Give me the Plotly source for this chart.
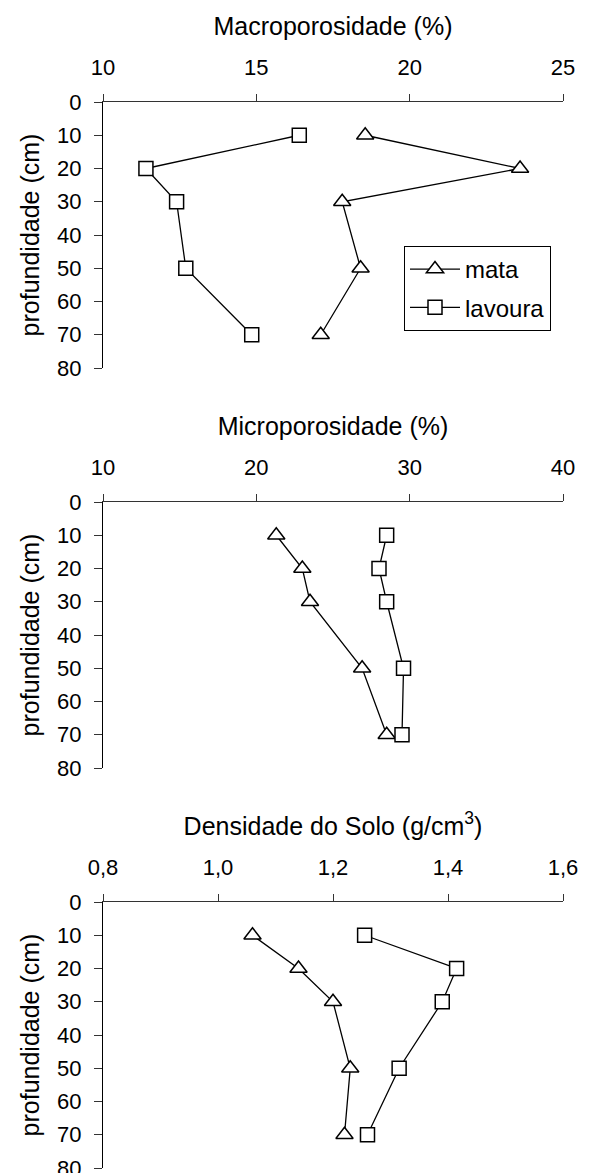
import plotly.graph_objects as go

depth = [10, 20, 30, 50, 70]

macro_mata = [18.55, 23.6, 17.8, 18.4, 17.1]
macro_lavoura = [16.4, 11.4, 12.4, 12.7, 14.85]
micro_mata = [21.3, 23.0, 23.5, 26.9, 28.5]
micro_lavoura = [28.5, 28.0, 28.5, 29.6, 29.5]
dens_mata = [1.06, 1.14, 1.20, 1.23, 1.22]
dens_lavoura = [1.255, 1.415, 1.39, 1.315, 1.26]

series_names = ["mata", "lavoura"]
panel_titles = ["Macroporosidade (%)", "Microporosidade (%)", "Densidade do Solo (g/cm<sup>3</sup>)"]
x_ranges = [[10, 25], [10, 40], [0.8, 1.6]]
x_dticks = [5, 10, 0.2]
x_formats = ["d", "d", ".1f"]
y_title = "profundidade (cm)"

W, H = 589, 1173
FONT = "Liberation Sans, Arial, sans-serif"

fig = go.Figure()

data = [(macro_mata, macro_lavoura), (micro_mata, micro_lavoura), (dens_mata, dens_lavoura)]
symbols = ["triangle-up", "square"]
sizes = [15, 14]

x0, x1 = 103, 563
for k, (m, l) in enumerate(data):
    ax = "" if k == 0 else str(k + 1)
    for j, vals in enumerate((m, l)):
        fig.add_trace(go.Scatter(
            x=vals, y=depth, mode="lines+markers", name=series_names[j],
            legendgroup=series_names[j],
            xaxis="x" + ax, yaxis="y" + ax, showlegend=(k == 0),
            line=dict(color="black", width=1.3),
            marker=dict(symbol=symbols[j], size=sizes[j], color="white",
                        line=dict(color="black", width=1.5)),
        ))
    top = 102 + 400 * k
    bot = 368 + 400 * k
    xa = dict(domain=[x0 / W, x1 / W], range=x_ranges[k], dtick=x_dticks[k], tick0=x_ranges[k][0],
              side="top", anchor="y" + ax, showline=True, linecolor="#333", linewidth=1,
              ticks="outside", ticklen=7, tickcolor="#333", showgrid=False, zeroline=False,
              tickformat=x_formats[k], tickfont=dict(size=22, color="black", family=FONT),
              ticklabelstandoff=10, ticklabeloverflow="allow",
              title=dict(text=panel_titles[k], font=dict(size=25, color="black", family=FONT), standoff=12),
              automargin=False, fixedrange=True)
    ya = dict(domain=[1 - bot / H, 1 - top / H], range=[80, 0], dtick=10, tick0=0,
              anchor="x" + ax, showline=True, linecolor="black", linewidth=1,
              ticks="outside", ticklen=8, tickcolor="#333", showgrid=False, zeroline=False,
              tickfont=dict(size=22, color="black", family=FONT),
              ticklabelstandoff=8, ticklabeloverflow="allow",
              title=dict(text=y_title, font=dict(size=25, color="black", family=FONT), standoff=10),
              automargin=False, fixedrange=True)
    fig.update_layout(**{"xaxis" + ax: xa, "yaxis" + ax: ya})

fig.update_layout(
    width=W, height=H,
    margin=dict(l=0, r=0, t=0, b=0, autoexpand=False),
    paper_bgcolor="white", plot_bgcolor="white",
    separators=",.",
    font=dict(family=FONT, color="black", size=22),
    legend=dict(x=404 / W, y=1 - 246 / H, xanchor="left", yanchor="top",
                bgcolor="white", bordercolor="black", borderwidth=1,
                font=dict(size=24, color="black", family=FONT),
                tracegroupgap=4, itemwidth=50),
)

fig.write_html("out.html", config={"displayModeBar": False},
               post_script="document.body.style.margin='0';document.body.style.overflow='hidden';")
